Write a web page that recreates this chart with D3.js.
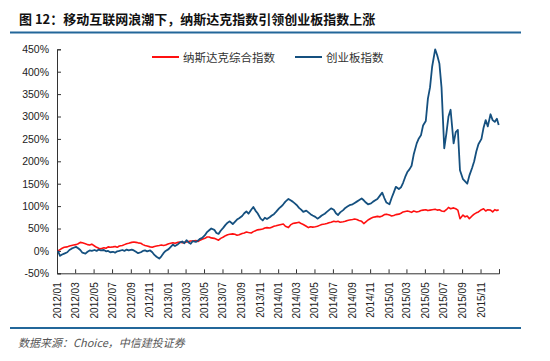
<!DOCTYPE html>
<html><head><meta charset="utf-8">
<script src="https://cdn.jsdelivr.net/npm/d3@7/dist/d3.min.js"></script>
<style>
body{margin:0;background:#fff;}
svg{display:block;}
</style></head>
<body>
<svg id="c" width="550" height="361"></svg>
<script>
// ---- data (cumulative change vs 2012/01, %) ----
const titleText = "图 12：移动互联网浪潮下，纳斯达克指数引领创业板指数上涨";
const sourceText = "数据来源：Choice，中信建投证券";
const seriesNames = ["纳斯达克综合指数", "创业板指数"];
const yTicks = [-50, 0, 50, 100, 150, 200, 250, 300, 350, 400, 450];
const weekDays = [4, 11, 18, 25]; // sampling days within each month
const nasdaq = [
  0,3,6,8, 9,11,12,13, 14,16,19,18, 16,14,13,15, 11,8,6,5, 7,6,9,8,
  9,10,8,11, 12,14,16,17, 19,20,19,18, 17,14,12,11, 9,8,10,11, 12,13,12,13,
  16,17,18,17, 19,20,18,19, 20,21,22,22, 23,21,24,26, 28,31,31,29, 28,26,24,28,
  31,34,36,37, 38,37,35,36, 39,40,42,41, 40,43,45,47, 48,49,51,52, 51,53,55,56,
  58,59,60,55, 52,58,61,62, 63,64,61,59, 55,52,54,53, 54,55,57,59, 60,61,63,64,
  66,65,66,64, 65,66,68,69, 70,71,70,68, 66,61,65,69, 73,75,76,77, 76,78,81,82,
  80,78,79,81, 82,84,87,88, 89,88,86,89, 87,88,90,91, 92,90,91,92, 93,91,92,89,
  88,92,97,94, 96,94,91,72, 80,76,78,72, 78,82,85,87, 92,94,89,92, 91,87,92,90,
  92
];
const chinext = [
  0,-11,-8,-6, -3,2,5,7, 9,6,2,-4, -6,-2,1,0, 2,0,3,1, 2,-1,0,-3,
  -2,-4,-1,0, 2,0,3,1, 3,1,-2,-5, -3,0,1,-1, 1,-3,-9,-13, -17,-12,-5,0,
  4,9,14,11, 15,19,21,17, 24,19,16,22, 20,23,27,29, 35,42,46,50, 47,40,38,45,
  52,58,63,66, 60,65,70,73, 78,84,88,83, 92,98,90,84, 72,68,74,71, 75,79,82,87,
  95,99,104,110, 116,113,110,106, 102,96,92,87, 90,86,82,79, 76,72,75,79, 83,87,91,95,
  92,84,80,86, 91,96,99,102, 104,107,110,113, 117,113,108,104, 106,110,113,116, 124,130,118,108,
  104,118,130,143, 138,142,152,165, 176,182,190,215, 240,251,258,280, 290,340,365,411, 450,436,418,365,
  229,262,300,315, 240,265,270,180, 160,155,150,168, 185,200,222,238, 250,275,292,278, 305,292,288,295,
  281
];
const startMonth = new Date(2012, 0, 1);
const endMonth = new Date(2016, 0, 1);

// dates: 4 samples per month for 48 months, plus final day
const dates = [];
for (let k = 0; k < 48; k++) for (const d of weekDays) dates.push(new Date(2012, k, d));
dates.push(new Date(2015, 11, 31));

const svg = d3.select("#c");
const L = 57, R = 499, T = 49.3, B = 273.3;
const x = d3.scaleTime().domain([startMonth, endMonth]).range([L, R]);
const y = d3.scaleLinear().domain([-50, 450]).range([B, T]);

const blue = "#15507f", red = "#ff1010", rule = "#23679a";

// title
svg.append("text").attr("x", 19).attr("y", 24).text(titleText)
  .attr("font-family", "'Noto Sans CJK SC', sans-serif").attr("font-weight", "bold")
  .attr("font-size", 13).attr("fill", "#111");
svg.append("line").attr("x1", 10).attr("x2", 521).attr("y1", 32.5).attr("y2", 32.5)
  .attr("stroke", rule).attr("stroke-width", 2.2);
svg.append("line").attr("x1", 10).attr("x2", 521).attr("y1", 328).attr("y2", 328)
  .attr("stroke", rule).attr("stroke-width", 2.2);
svg.append("text").attr("x", 18).attr("y", 347).text(sourceText)
  .attr("font-family", "'Noto Sans CJK SC', sans-serif").attr("font-style", "italic")
  .attr("font-size", 11).attr("fill", "#555");

// axes
const yAxis = d3.axisLeft(y).tickValues(yTicks).tickSize(-4).tickPadding(8)
  .tickFormat(d => d + "%");
const gy = svg.append("g").attr("transform", `translate(${L},0)`).call(yAxis);
gy.selectAll("text").attr("font-family", "'Liberation Sans', Arial, sans-serif")
  .attr("font-size", 10.5).attr("fill", "#222");
gy.selectAll("line,path").attr("stroke", "#333");

const xAxis = d3.axisBottom(x).ticks(d3.timeMonth.every(2)).tickSize(-4)
  .tickFormat(d3.timeFormat("%Y/%m"));
const gx = svg.append("g").attr("transform", `translate(0,${B})`).call(xAxis);
gx.selectAll("line,path").attr("stroke", "#333");
gx.selectAll(".tick").filter(d => d >= endMonth).select("text").remove();
gx.selectAll("text").attr("font-family", "'Liberation Sans', Arial, sans-serif")
  .attr("font-size", 10).attr("fill", "#222")
  .attr("transform", "rotate(-90)").attr("text-anchor", "end")
  .attr("x", -9).attr("y", 0).attr("dy", "0.35em");

// lines
const line = d3.line().x((d, i) => x(dates[i])).y(d => y(d));
svg.append("path").datum(nasdaq).attr("d", line).attr("fill", "none")
  .attr("stroke", red).attr("stroke-width", 1.6).attr("stroke-linejoin", "round");
svg.append("path").datum(chinext).attr("d", line).attr("fill", "none")
  .attr("stroke", blue).attr("stroke-width", 1.8).attr("stroke-linejoin", "round");

// legend
const legend = [{name: seriesNames[0], c: red, x: 152}, {name: seriesNames[1], c: blue, x: 295}];
legend.forEach(l => {
  svg.append("line").attr("x1", l.x).attr("x2", l.x + 27).attr("y1", 57).attr("y2", 57)
    .attr("stroke", l.c).attr("stroke-width", 2);
  svg.append("text").attr("x", l.x + 31).attr("y", 61.5).text(l.name)
    .attr("font-family", "'Noto Sans CJK SC', sans-serif").attr("font-size", 11.5).attr("fill", "#333");
});
</script>
</body></html>
